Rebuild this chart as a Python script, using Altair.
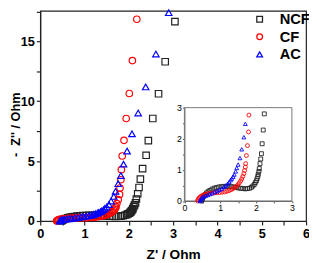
import altair as alt
import pandas as pd

series = ["NCF", "CF", "AC"]
colors = ["#222222", "#ff0000", "#0000ff"]
shapes = ["square", "circle", "triangle-up"]

ncf_x = [0.48, 0.50, 0.52, 0.55, 0.58, 0.62, 0.66, 0.71, 0.77, 0.83, 0.89, 0.96, 1.03, 1.10, 1.17,
         1.24, 1.31, 1.38, 1.44, 1.50, 1.57, 1.63, 1.70, 1.76, 1.82, 1.87, 1.91, 1.95, 1.98, 2.01,
         2.03, 2.05, 2.06, 2.08, 2.09, 2.11, 2.13, 2.15, 2.17, 2.20, 2.23, 2.26, 2.31, 2.39, 2.44,
         2.54, 2.67, 2.82, 3.04]
ncf_y = [0.00, 0.06, 0.12, 0.17, 0.21, 0.26, 0.30, 0.34, 0.38, 0.41, 0.43, 0.45, 0.46, 0.47, 0.47,
         0.47, 0.46, 0.45, 0.44, 0.42, 0.41, 0.40, 0.39, 0.40, 0.41, 0.44, 0.48, 0.53, 0.59, 0.65,
         0.72, 0.79, 0.86, 0.95, 1.04, 1.20, 1.35, 1.52, 1.84, 2.28, 2.80, 3.50, 4.37, 5.49, 6.71,
         8.56, 10.63, 13.30, 16.66]

cf_x = [0.37, 0.38, 0.40, 0.42, 0.45, 0.49, 0.53, 0.58, 0.64, 0.70, 0.77, 0.84, 0.91, 0.98, 1.05,
        1.12, 1.18, 1.24, 1.30, 1.35, 1.40, 1.45, 1.49, 1.53, 1.57, 1.60, 1.63, 1.66, 1.68, 1.70,
        1.71, 1.73, 1.76, 1.79, 1.80, 1.82, 1.83, 1.85, 1.89, 1.94, 2.01, 2.08, 2.18]
cf_y = [0.00, 0.04, 0.08, 0.11, 0.14, 0.17, 0.19, 0.21, 0.23, 0.24, 0.25, 0.26, 0.27, 0.27, 0.28,
        0.29, 0.31, 0.33, 0.36, 0.39, 0.43, 0.47, 0.52, 0.58, 0.64, 0.71, 0.79, 0.88, 0.98, 1.09,
        1.20, 1.46, 1.78, 2.22, 2.76, 3.45, 4.29, 5.43, 6.74, 8.56, 10.65, 13.40, 16.85]

ac_x = [0.44, 0.45, 0.47, 0.50, 0.54, 0.59, 0.65, 0.71, 0.78, 0.85, 0.92, 0.98, 1.04, 1.10, 1.16,
        1.21, 1.25, 1.29, 1.32, 1.36, 1.39, 1.43, 1.46, 1.50, 1.55, 1.60, 1.66, 1.70, 1.76, 1.82,
        1.88, 1.96, 2.07, 2.21, 2.38, 2.61, 2.90]
ac_y = [0.00, 0.04, 0.08, 0.11, 0.14, 0.17, 0.19, 0.22, 0.25, 0.29, 0.32, 0.36, 0.40, 0.45, 0.50,
        0.56, 0.61, 0.67, 0.72, 0.78, 0.85, 0.95, 1.06, 1.17, 1.38, 1.66, 2.05, 2.48, 3.12, 3.80,
        4.75, 5.84, 7.28, 9.02, 11.20, 13.95, 17.40]

rows = []
for name, xs, ys in [("NCF", ncf_x, ncf_y), ("CF", cf_x, cf_y), ("AC", ac_x, ac_y)]:
    for a, b in zip(xs, ys):
        rows.append({"series": name, "zr": a, "zi": b})
df = pd.DataFrame(rows)
box = pd.DataFrame({"zr": [0], "zr2": [3], "zi": [0], "zi2": [3]})

FONT = "Liberation Sans"
INT_LABEL = "datum.value % 1 == 0 ? format(datum.value, '.0f') : ''"
FIVE_LABEL = "datum.value % 5 == 0 ? format(datum.value, '.0f') : ''"

leg = alt.Legend(title=None, orient="none", legendX=217, legendY=1, padding=0,
                 labelFont=FONT, labelFontSize=15, labelFontWeight="bold", labelColor="#000",
                 symbolSize=34, symbolStrokeWidth=1.3, labelOffset=13, rowPadding=2)
color = alt.Color("series:N", scale=alt.Scale(domain=series, range=colors), legend=leg)
shape = alt.Shape("series:N", scale=alt.Scale(domain=series, range=shapes), legend=leg)

main_axis = dict(labelFont=FONT, labelFontSize=13, labelFontWeight="bold", labelColor="#000",
                 titleFont=FONT, titleFontWeight="bold", titleColor="#000",
                 domainColor="#222", tickColor="#222", domainWidth=1.2, tickWidth=1.2,
                 tickSize=4, grid=False, labelFlush=False)

main = alt.Chart(df).mark_point(filled=False, size=44, strokeWidth=1.2, opacity=1).encode(
    x=alt.X("zr:Q", scale=alt.Scale(domain=[0, 6], nice=False, zero=False),
            axis=alt.Axis(values=[i * 0.5 for i in range(13)], labelExpr=INT_LABEL,
                          title="Z' / Ohm", titleFontSize=14, labelPadding=3, titlePadding=7,
                          **main_axis)),
    y=alt.Y("zi:Q", scale=alt.Scale(domain=[0, 17.55], nice=False, zero=False),
            axis=alt.Axis(values=[i * 2.5 for i in range(8)], labelExpr=FIVE_LABEL,
                          title="-\u00a0\u00a0Z'' / Ohm", titleFontSize=13, labelPadding=2,
                          titleX=-25, titleY=116, titleAngle=270, titleBaseline="middle",
                          titleAlign="center", **main_axis)),
    color=color, shape=shape,
)

inset_axis = dict(labelFont=FONT, labelFontSize=9, labelColor="#000", domainColor="#555",
                  tickColor="#555", tickSize=2, grid=False, title=None, labelPadding=1,
                  labelFlush=False)
ix = alt.X("zr:Q", scale=alt.Scale(domain=[0, 3], range=[147.5, 257.5], nice=False, zero=False),
           axis=alt.Axis(orient="bottom", offset=-20.5, values=[i * 0.5 for i in range(7)],
                         labelExpr=INT_LABEL, **inset_axis))
iy = alt.Y("zi:Q", scale=alt.Scale(domain=[0, 3], range=[194.5, 99], nice=False, zero=False),
           axis=alt.Axis(orient="left", offset=-147.5, values=[i * 0.5 for i in range(7)],
                         labelExpr=INT_LABEL, **inset_axis))

inset_box = alt.Chart(box).mark_rect(fillOpacity=0, stroke="#777", strokeWidth=1).encode(
    x=ix, x2="zr2", y=iy, y2="zi2")
inset_pts = alt.Chart(df).transform_filter("datum.zr <= 3 && datum.zi <= 3").mark_point(
    filled=False, size=16, strokeWidth=0.9, opacity=1).encode(x=ix, y=iy, color=color, shape=shape)
inset = alt.layer(inset_box, inset_pts)

chart = alt.layer(main, inset).resolve_scale(x="independent", y="independent").properties(
    width=272, height=215,
    autosize=alt.AutoSizeParams(type="none"),
    padding={"left": 33, "top": 0, "right": 3, "bottom": 40},
).configure_view(stroke="#222", strokeWidth=1.2)

chart.save("out.html", embed_options={"renderer": "svg", "actions": False})
